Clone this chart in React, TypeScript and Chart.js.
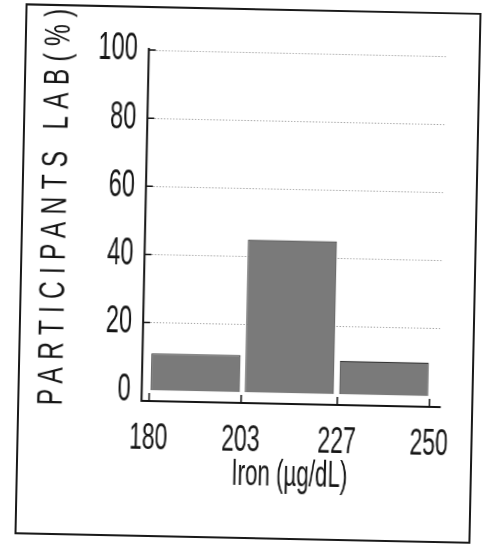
import React, { useEffect, useRef } from "react";
import { Chart, registerables } from "chart.js";

Chart.register(...registerables);

// ---- data ----
const BIN_EDGES = [180, 203, 227, 250];
const PERCENTS = [11, 45, 10];
const X_TICKS = [180, 203, 227, 250];
const Y_TICKS = [0, 20, 40, 60, 80, 100];
const X_TITLE = "Iron (µg/dL)";
const Y_TITLE = "PARTICIPANTS LAB(%)";

// ---- look ----
const W = 490;
const H = 546;
const K = 0.62; // horizontal condensing of the drawing (narrow typeface look)
const LW = Math.round(W / K);
const FONT = "'Liberation Sans', Arial, sans-serif";
const INK = "#151515";
const px = (v: number) => v / K; // css px (horizontal) -> canvas units

const TITLE_SPACING = 10.4;

const yTitlePlugin = {
  id: "yTitleSpaced",
  afterDraw(chart: any) {
    const ctx = chart.ctx as CanvasRenderingContext2D;
    ctx.save();
    ctx.fillStyle = INK;
    ctx.textAlign = "center";
    ctx.textBaseline = "middle";
    ctx.translate(px(55), 211);
    ctx.scale(px(1), 1); // back to square css pixels
    ctx.rotate(-Math.PI / 2);
    ctx.scale(0.7, 1); // narrow letters
    ctx.font = `35px ${FONT}`;
    (ctx as any).letterSpacing = `${TITLE_SPACING}px`;
    ctx.fillText(Y_TITLE, TITLE_SPACING / 2, 0);
    ctx.restore();
  },
};

const tickMarksPlugin = {
  id: "innerTicks",
  afterDatasetsDraw(chart: any) {
    const { ctx, scales } = chart;
    const x = scales.x;
    const y = scales.y;
    ctx.save();
    ctx.strokeStyle = INK;
    ctx.beginPath();
    ctx.lineWidth = 1.5;
    for (const v of Y_TICKS) {
      if (v === 0) continue;
      const py = y.getPixelForValue(v);
      ctx.moveTo(x.left, py);
      ctx.lineTo(x.left + px(7), py);
    }
    ctx.stroke();
    ctx.beginPath();
    ctx.lineWidth = px(1.5);
    for (const v of X_TICKS) {
      const xp = x.getPixelForValue(v);
      ctx.moveTo(xp, y.bottom);
      ctx.lineTo(xp, y.bottom - 8);
    }
    ctx.stroke();
    ctx.restore();
  },
};

export default function App() {
  const ref = useRef<HTMLCanvasElement | null>(null);

  useEffect(() => {
    if (!ref.current) return;
    const points = PERCENTS.map((v, i) => ({
      x: (BIN_EDGES[i] + BIN_EDGES[i + 1]) / 2,
      y: v,
    }));
    const chart = new Chart(ref.current, {
      type: "bar",
      data: {
        datasets: [
          {
            data: points as any,
            backgroundColor: "#7a7a7a",
            borderColor: "#333333",
            borderWidth: 1.2,
            categoryPercentage: 1,
            barPercentage: 0.965,
          },
        ],
      },
      options: {
        responsive: false,
        animation: false,
        devicePixelRatio: 1,
        layout: { padding: { left: 0, top: 52, right: px(47), bottom: 49 } },
        plugins: {
          legend: { display: false },
          tooltip: { enabled: false },
        },
        scales: {
          x: {
            type: "linear",
            offset: false,
            min: 178.1,
            max: 252.7,
            afterBuildTicks: (s: any) => {
              s.ticks = X_TICKS.map((value) => ({ value }));
            },
            afterFit: (s: any) => {
              s.height = 94;
            },
            grid: { display: false, drawTicks: false },
            border: { display: true, color: INK, width: 2 },
            ticks: {
              padding: 16,
              color: INK,
              font: { family: FONT, size: 37 },
              maxRotation: 0,
              autoSkip: false,
            },
            title: {
              display: true,
              text: X_TITLE,
              color: INK,
              font: { family: FONT, size: 36 },
              padding: { top: 0, bottom: 0 },
            },
          },
          y: {
            type: "linear",
            min: -3,
            max: 100,
            afterBuildTicks: (s: any) => {
              s.ticks = Y_TICKS.map((value) => ({ value }));
            },
            afterFit: (s: any) => {
              s.width = px(144);
            },
            grid: {
              drawTicks: false,
              color: (c: any) => (c.tick && c.tick.value === 0 ? "rgba(0,0,0,0)" : "#9a9a9a"),
              lineWidth: 1,
            },
            border: { display: true, color: INK, width: px(2), dash: [2, 3] },
            ticks: {
              padding: px(11),
              color: INK,
              font: { family: FONT, size: 38 },
            },
          },
        },
      },
      plugins: [yTitlePlugin, tickMarksPlugin],
    });
    return () => chart.destroy();
  }, []);

  return (
    <div
      style={{
        position: "fixed",
        left: 0,
        top: 0,
        width: W,
        height: H,
        background: "#fff",
        overflow: "hidden",
      }}
    >
      <div
        style={{
          position: "absolute",
          left: 0,
          top: 0,
          width: W,
          height: H,
          transform: "rotate(1.2deg)",
          transformOrigin: "50% 50%",
        }}
      >
        <div
          style={{
            position: "absolute",
            left: 20,
            top: 8,
            width: 456,
            height: 531,
            border: "2px solid #1a1a1a",
            boxSizing: "border-box",
          }}
        />
        <canvas
          ref={ref}
          width={LW}
          height={H}
          style={{ position: "absolute", left: 0, top: 0, width: W, height: H }}
        />
      </div>
    </div>
  );
}
